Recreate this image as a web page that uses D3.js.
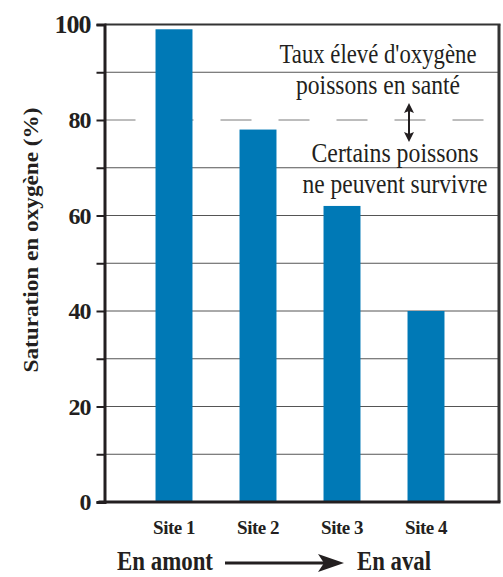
<!DOCTYPE html>
<html>
<head>
<meta charset="utf-8">
<style>
	body { margin: 0; background: #fff; }
	svg { display: block; }
	text { font-family: "Liberation Serif", "Times New Roman", serif; fill: #231f20; }
	.bold { font-weight: bold; }
</style>
<script src="https://cdnjs.cloudflare.com/ajax/libs/d3/7.8.5/d3.min.js"></script>
</head>
<body>
<svg width="503" height="577"></svg>
<script>
// data
var sites = ["Site 1", "Site 2", "Site 3", "Site 4"];
var saturation = [99, 78, 62, 40];
var yTicks = [0, 10, 20, 30, 40, 50, 60, 70, 80, 90, 100];
var upperNote = ["Taux élevé d'oxygène", "poissons en santé"];
var lowerNote = ["Certains poissons", "ne peuvent survivre"];
var threshold = 80;

var svg = d3.select("svg");
var plotLeft = 104.5, plotRight = 499, plotTop = 24.5, plotBottom = 502;
var ink = "#231f20";

var x = d3.scaleBand()
	.domain(sites)
	.range([132, 468])
	.paddingInner(0.56)
	.paddingOuter(0.28);

var y = d3.scaleLinear()
	.domain([0, 100])
	.range([plotBottom, plotTop]);

// grid lines (80 is drawn dashed)
svg.append("g").selectAll("line")
	.data(yTicks.filter(function (d) { return d > 0 && d < 100 && d != threshold; }))
	.enter().append("line")
	.attr("x1", plotLeft).attr("x2", plotRight)
	.attr("y1", function (d) { return y(d); })
	.attr("y2", function (d) { return y(d); })
	.attr("stroke", "#555")
	.attr("stroke-width", 1);

svg.append("line")
	.attr("x1", plotLeft).attr("x2", plotRight - 10)
	.attr("y1", y(threshold)).attr("y2", y(threshold))
	.attr("stroke", "#7a7a7a")
	.attr("stroke-width", 1)
	.attr("stroke-dasharray", "31,27");

// bars
svg.append("g").selectAll("rect")
	.data(saturation)
	.enter().append("rect")
	.attr("x", function (d, i) { return x(sites[i]); })
	.attr("y", function (d) { return y(d); })
	.attr("width", x.bandwidth())
	.attr("height", function (d) { return y(0) - y(d); })
	.attr("fill", "#0079b6");

// frame: top and right
svg.append("line")
	.attr("x1", plotLeft).attr("x2", plotRight + 1.5)
	.attr("y1", plotTop).attr("y2", plotTop)
	.attr("stroke", "#333").attr("stroke-width", 2);
svg.append("line")
	.attr("x1", plotRight).attr("x2", plotRight)
	.attr("y1", plotTop).attr("y2", plotBottom)
	.attr("stroke", "#333").attr("stroke-width", 3);

// y axis
var yAxis = svg.append("g")
	.attr("transform", "translate(" + plotLeft + ",0)")
	.call(d3.axisLeft(y)
		.tickValues(yTicks)
		.tickSize(8)
		.tickPadding(6)
		.tickFormat(function (d) { return d % 20 == 0 ? d : ""; }));
yAxis.select(".domain").attr("stroke", ink).attr("stroke-width", 3);
yAxis.selectAll(".tick line").attr("stroke", ink).attr("stroke-width", 2);
yAxis.selectAll(".tick text")
	.attr("class", "bold")
	.style("font-family", "'Liberation Serif', serif")
	.style("font-size", function (d) { return d == 100 ? "26px" : "24px"; })
	.style("letter-spacing", "-1px")
	.attr("fill", ink);

// x axis
var xAxis = svg.append("g")
	.attr("transform", "translate(0," + plotBottom + ")")
	.call(d3.axisBottom(x).tickSize(0).tickPadding(19));
xAxis.select(".domain").remove();
svg.append("line")
	.attr("x1", plotLeft - 6).attr("x2", plotRight + 1.5)
	.attr("y1", plotBottom).attr("y2", plotBottom)
	.attr("stroke", ink).attr("stroke-width", 3);
xAxis.selectAll(".tick text")
	.attr("class", "bold")
	.style("font-family", "'Liberation Serif', serif")
	.style("font-size", "19px")
	.style("letter-spacing", "-0.5px")
	.attr("fill", ink);

// y axis title
svg.append("text")
	.attr("class", "bold")
	.attr("transform", "translate(38,240) rotate(-90)")
	.attr("text-anchor", "middle")
	.attr("textLength", 265)
	.attr("lengthAdjust", "spacingAndGlyphs")
	.style("font-size", "22px")
	.text("Saturation en oxygène (%)");

// annotation text
var noteWidths = [197, 164, 167, 185];
svg.selectAll(".upper")
	.data(upperNote)
	.enter().append("text")
	.attr("class", "upper")
	.attr("x", 378)
	.attr("y", function (d, i) { return y(threshold) - 57 + i * 31; })
	.attr("text-anchor", "middle")
	.attr("textLength", function (d, i) { return noteWidths[i]; })
	.attr("lengthAdjust", "spacingAndGlyphs")
	.style("font-size", "27px")
	.text(function (d) { return d; });

svg.selectAll(".lower")
	.data(lowerNote)
	.enter().append("text")
	.attr("class", "lower")
	.attr("x", 395)
	.attr("y", function (d, i) { return y(threshold) + 42 + i * 31; })
	.attr("text-anchor", "middle")
	.attr("textLength", function (d, i) { return noteWidths[i + 2]; })
	.attr("lengthAdjust", "spacingAndGlyphs")
	.style("font-size", "27px")
	.text(function (d) { return d; });

// double arrow across the threshold
var ax = 409, a1 = y(threshold) - 17, a2 = y(threshold) + 22;
svg.append("line")
	.attr("x1", ax).attr("x2", ax)
	.attr("y1", a1 + 6).attr("y2", a2 - 6)
	.attr("stroke", ink).attr("stroke-width", 2);
svg.append("path")
	.attr("d", "M" + ax + "," + a1 + "L" + (ax - 5) + "," + (a1 + 10) + "L" + ax + "," + (a1 + 8) + "L" + (ax + 5) + "," + (a1 + 10) + "Z")
	.attr("fill", ink);
svg.append("path")
	.attr("d", "M" + ax + "," + a2 + "L" + (ax - 5) + "," + (a2 - 10) + "L" + ax + "," + (a2 - 8) + "L" + (ax + 5) + "," + (a2 - 10) + "Z")
	.attr("fill", ink);

// upstream -> downstream
svg.append("text")
	.attr("class", "bold")
	.attr("x", 117).attr("y", 570)
	.attr("textLength", 96)
	.attr("lengthAdjust", "spacingAndGlyphs")
	.style("font-size", "27px")
	.text("En amont");
svg.append("text")
	.attr("class", "bold")
	.attr("x", 357).attr("y", 570)
	.attr("textLength", 74)
	.attr("lengthAdjust", "spacingAndGlyphs")
	.style("font-size", "27px")
	.text("En aval");
svg.append("line")
	.attr("x1", 225).attr("x2", 330)
	.attr("y1", 563).attr("y2", 563)
	.attr("stroke", ink).attr("stroke-width", 3);
svg.append("path")
	.attr("d", "M344,563L318,554L324,563L318,572Z")
	.attr("fill", ink);
</script>
</body>
</html>
